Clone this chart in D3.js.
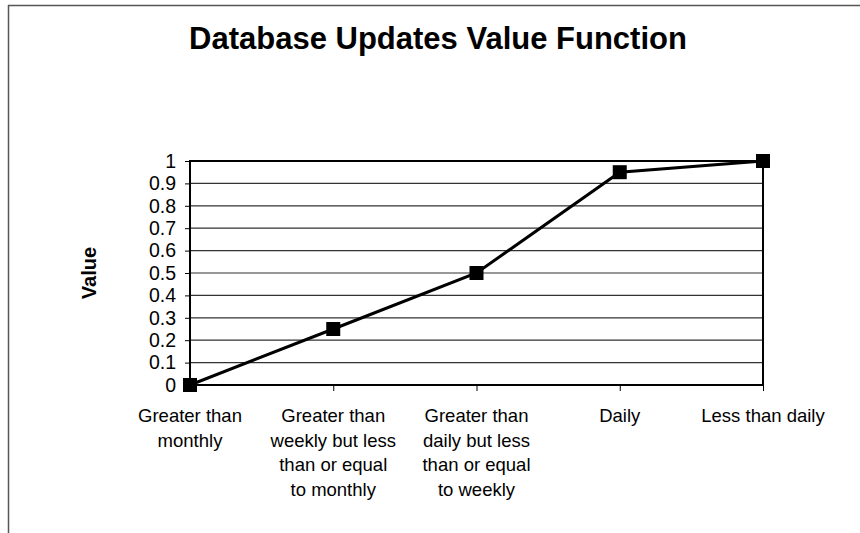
<!DOCTYPE html>
<html>
<head>
<meta charset="UTF-8" />
<script src="https://d3js.org/d3.v7.min.js"></script>
<style>
  body { margin: 0; background: #fff; }
  svg { display: block; }
</style>
</head>
<body>
<div id="chart"></div>
<script>
  // data
  var categories = [
    ["Greater than", "monthly"],
    ["Greater than", "weekly but less", "than or equal", "to monthly"],
    ["Greater than", "daily but less", "than or equal", "to weekly"],
    ["Daily"],
    ["Less than daily"]
  ];
  var values = [0, 0.25, 0.5, 0.95, 1];
  var yTicks = [0, 0.1, 0.2, 0.3, 0.4, 0.5, 0.6, 0.7, 0.8, 0.9, 1];

  var width = 860, height = 533;
  var plotLeft = 190, plotRight = 763, plotTop = 161, plotBottom = 385;

  var svg = d3.select("#chart").append("svg")
    .attr("width", width)
    .attr("height", height)
    .style("font-family", "'Liberation Sans', Arial, sans-serif");

  // outer chart frame (only left & top visible in the scan)
  svg.append("line").attr("x1", 8.5).attr("x2", 8.5).attr("y1", 5).attr("y2", height)
    .attr("stroke", "#555").attr("stroke-width", 1.5);
  svg.append("line").attr("x1", 8).attr("x2", width).attr("y1", 5.5).attr("y2", 5.5)
    .attr("stroke", "#555").attr("stroke-width", 1.5);

  var x = d3.scalePoint()
    .domain(d3.range(categories.length))
    .range([plotLeft, plotRight]);

  var y = d3.scaleLinear()
    .domain([0, 1])
    .range([plotBottom, plotTop]);

  // gridlines
  svg.append("g")
    .selectAll("line")
    .data(yTicks)
    .enter()
    .append("line")
    .attr("x1", plotLeft)
    .attr("x2", plotRight)
    .attr("y1", function (d) { return y(d); })
    .attr("y2", function (d) { return y(d); })
    .attr("stroke", "#333")
    .attr("stroke-width", 1.2);

  // y axis
  var yAxis = svg.append("g")
    .attr("transform", "translate(" + plotLeft + ",0)")
    .call(d3.axisLeft(y).tickValues(yTicks).tickSize(5).tickPadding(9)
      .tickFormat(function (d) { return String(d); }));
  yAxis.select(".domain").remove();
  yAxis.selectAll("text").style("font-size", "19.5px").attr("fill", "#000");
  yAxis.selectAll(".tick line").attr("stroke", "#000");

  // x axis ticks
  var xAxis = svg.append("g")
    .attr("transform", "translate(0," + plotBottom + ")")
    .call(d3.axisBottom(x).tickSize(6).tickFormat(""));
  xAxis.select(".domain").remove();
  xAxis.selectAll(".tick line").attr("stroke", "#000");

  // plot border
  svg.append("rect")
    .attr("x", plotLeft)
    .attr("y", plotTop)
    .attr("width", plotRight - plotLeft)
    .attr("height", plotBottom - plotTop)
    .attr("fill", "none")
    .attr("stroke", "#000")
    .attr("stroke-width", 2);

  // category labels
  svg.append("g")
    .selectAll("text")
    .data(categories)
    .enter()
    .append("text")
    .attr("x", function (d, i) { return x(i); })
    .attr("y", 422)
    .attr("text-anchor", "middle")
    .style("font-size", "18.5px")
    .each(function (d, i) {
      var t = d3.select(this);
      d.forEach(function (line, k) {
        t.append("tspan")
          .attr("x", x(i))
          .attr("dy", k === 0 ? 0 : 24.5)
          .text(line);
      });
    });

  // line
  var line = d3.line()
    .x(function (d, i) { return x(i); })
    .y(function (d) { return y(d); });

  svg.append("path")
    .datum(values)
    .attr("d", line)
    .attr("fill", "none")
    .attr("stroke", "#000")
    .attr("stroke-width", 3);

  // square markers
  svg.append("g")
    .selectAll("rect")
    .data(values)
    .enter()
    .append("rect")
    .attr("x", function (d, i) { return x(i) - 7; })
    .attr("y", function (d) { return y(d) - 7; })
    .attr("width", 14)
    .attr("height", 14)
    .attr("fill", "#000");

  // title
  svg.append("text")
    .attr("x", 438)
    .attr("y", 49)
    .attr("text-anchor", "middle")
    .style("font-size", "31px")
    .style("font-weight", "bold")
    .text("Database Updates Value Function");

  // y axis title
  svg.append("text")
    .attr("transform", "translate(96,273) rotate(-90)")
    .attr("text-anchor", "middle")
    .style("font-size", "20px")
    .style("font-weight", "bold")
    .text("Value");
</script>
</body>
</html>
